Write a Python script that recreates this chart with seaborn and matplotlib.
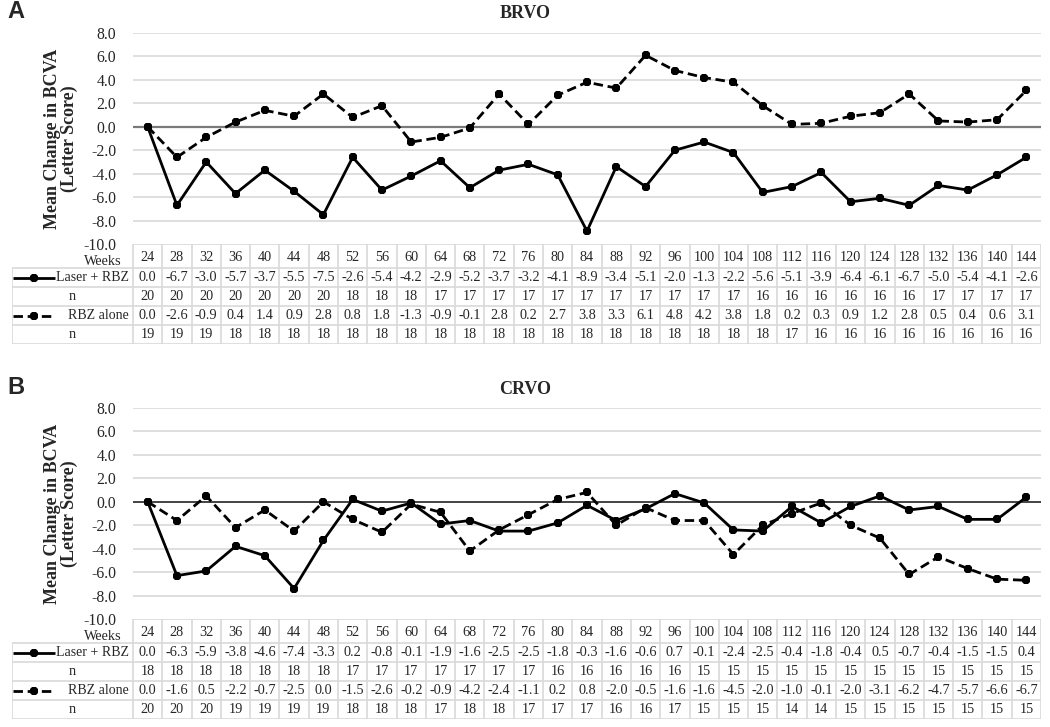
import numpy as np
import matplotlib
matplotlib.use("Agg")
import matplotlib.pyplot as plt
import seaborn as sns

# ---------------- data ----------------
weeks = [24, 28, 32, 36, 40, 44, 48, 52, 56, 60, 64, 68, 72, 76, 80, 84,
         88, 92, 96, 100, 104, 108, 112, 116, 120, 124, 128, 132, 136, 140, 144]

brvo_laser = [0.0, -6.7, -3.0, -5.7, -3.7, -5.5, -7.5, -2.6, -5.4, -4.2, -2.9, -5.2, -3.7, -3.2, -4.1, -8.9,
              -3.4, -5.1, -2.0, -1.3, -2.2, -5.6, -5.1, -3.9, -6.4, -6.1, -6.7, -5.0, -5.4, -4.1, -2.6]
brvo_laser_n = [20, 20, 20, 20, 20, 20, 20, 18, 18, 18, 17, 17, 17, 17, 17, 17,
                17, 17, 17, 17, 17, 16, 16, 16, 16, 16, 16, 17, 17, 17, 17]
brvo_rbz = [0.0, -2.6, -0.9, 0.4, 1.4, 0.9, 2.8, 0.8, 1.8, -1.3, -0.9, -0.1, 2.8, 0.2, 2.7, 3.8,
            3.3, 6.1, 4.8, 4.2, 3.8, 1.8, 0.2, 0.3, 0.9, 1.2, 2.8, 0.5, 0.4, 0.6, 3.1]
brvo_rbz_n = [19, 19, 19, 18, 18, 18, 18, 18, 18, 18, 18, 18, 18, 18, 18, 18,
              18, 18, 18, 18, 18, 18, 17, 16, 16, 16, 16, 16, 16, 16, 16]

crvo_laser = [0.0, -6.3, -5.9, -3.8, -4.6, -7.4, -3.3, 0.2, -0.8, -0.1, -1.9, -1.6, -2.5, -2.5, -1.8, -0.3,
              -1.6, -0.6, 0.7, -0.1, -2.4, -2.5, -0.4, -1.8, -0.4, 0.5, -0.7, -0.4, -1.5, -1.5, 0.4]
crvo_laser_n = [18, 18, 18, 18, 18, 18, 18, 17, 17, 17, 17, 17, 17, 17, 16, 16,
                16, 16, 16, 15, 15, 15, 15, 15, 15, 15, 15, 15, 15, 15, 15]
crvo_rbz = [0.0, -1.6, 0.5, -2.2, -0.7, -2.5, 0.0, -1.5, -2.6, -0.2, -0.9, -4.2, -2.4, -1.1, 0.2, 0.8,
            -2.0, -0.5, -1.6, -1.6, -4.5, -2.0, -1.0, -0.1, -2.0, -3.1, -6.2, -4.7, -5.7, -6.6, -6.7]
crvo_rbz_n = [20, 20, 20, 19, 19, 19, 19, 18, 18, 18, 17, 18, 18, 17, 17, 17,
              16, 16, 17, 15, 15, 15, 14, 14, 15, 15, 15, 15, 15, 15, 15]

yticks = [8.0, 6.0, 4.0, 2.0, 0.0, -2.0, -4.0, -6.0, -8.0, -10.0]
series_names = ["Laser + RBZ", "RBZ alone"]
panel_titles = ["BRVO", "CRVO"]
panel_letters = ["A", "B"]
ylabel = "Mean Change in BCVA\n(Letter Score)"

# ---------------- style ----------------
sns.set_theme(style="white")
plt.rcParams["font.family"] = ["Liberation Serif", "DejaVu Serif"]

W, H = 1050, 727
fig = plt.figure(figsize=(W / 100, H / 100), dpi=100)


def fr(x0, y0, x1, y1):
    """pixel box -> figure fraction rect"""
    return [x0 / W, 1 - y1 / H, (x1 - x0) / W, (y1 - y0) / H]


PX_L, PX_R = 133, 1041          # data column span in pixels
TBL_L = 12                       # table left edge
XMIN, XMAX = 22, 146
unit = (PX_R - PX_L) / (XMAX - XMIN)
TXMIN = XMIN - (PX_L - TBL_L) / unit

GRID = "#d9d9d9"
FS = 10.3
LW = 2.0
MS = 6.6
MK = "8"
DASH = (3.4, 1.7)

panels = [
    dict(plot=(33, 244), table=(244, 344), zc="#7a7a7a", zw=1.6,
         data=(brvo_laser, brvo_laser_n, brvo_rbz, brvo_rbz_n)),
    dict(plot=(408, 619), table=(619, 719), zc="#222222", zw=1.2,
         data=(crvo_laser, crvo_laser_n, crvo_rbz, crvo_rbz_n)),
]

for k, p in enumerate(panels):
    laser, laser_n, rbz, rbz_n = p["data"]
    top, bot = p["plot"]
    ax = fig.add_axes(fr(PX_L, top, PX_R, bot))
    for sp in ax.spines.values():
        sp.set_visible(False)
    ax.set_xlim(XMIN, XMAX)
    ax.set_ylim(-10, 8)
    ax.set_yticks(yticks)
    ax.set_yticklabels([f"{v:.1f}" for v in yticks], fontsize=FS + 1)
    ax.tick_params(axis="y", length=0, pad=12)
    ax.set_xticks([])
    for v in yticks:
        if v not in (0.0, -10.0):
            ax.axhline(v, color=GRID, lw=1.2, zorder=0)
    ax.axhline(0, color=p["zc"], lw=p["zw"], zorder=1)

    sns.lineplot(x=weeks, y=laser, ax=ax, color="black", lw=LW, marker=MK,
                 markersize=MS, markeredgewidth=0, zorder=3)
    sns.lineplot(x=weeks, y=rbz, ax=ax, color="black", lw=LW, marker=MK,
                 markersize=MS, markeredgewidth=0, zorder=3)
    ax.lines[-1].set_dashes(DASH)

    ax.set_ylabel(ylabel, fontsize=FS + 2.7, fontweight="bold", linespacing=1.0)
    ax.yaxis.set_label_coords(-(PX_L - 78) / (PX_R - PX_L), 0.5)

    # panel title & letter
    fig.text(525 / W, 1 - (top - 19) / H, panel_titles[k], ha="center", va="center",
             fontsize=13, fontweight="bold")
    fig.text(7 / W, 1 - (top - 21) / H, panel_letters[k], ha="left", va="center",
             fontsize=17, fontweight="bold", family=["Liberation Sans", "DejaVu Sans"])

    # ---------------- table ----------------
    ttop, tbot = p["table"]
    tax = fig.add_axes(fr(TBL_L, ttop, PX_R, tbot))
    tax.set_xlim(TXMIN, XMAX)
    tax.set_ylim(tbot - ttop, 0)
    tax.axis("off")
    rows = [0, 24, 43, 62, 81, 100]
    tax.hlines(rows[0], XMIN, XMAX, color=GRID, lw=1.2)
    for r in rows[1:]:
        tax.hlines(r, TXMIN, XMAX, color=GRID, lw=1.2)
    tax.vlines(TXMIN, rows[1], rows[-1], color=GRID, lw=1.2)
    for w in weeks:
        tax.vlines(w - 2, rows[0], rows[-1], color=GRID, lw=1.2)
    tax.vlines(XMAX, rows[0], rows[-1], color=GRID, lw=1.2)

    centers = [(rows[i] + rows[i + 1]) / 2 for i in range(5)]
    row_vals = [[str(w) for w in weeks],
                [f"{v:.1f}" for v in laser],
                [str(v) for v in laser_n],
                [f"{v:.1f}" for v in rbz],
                [str(v) for v in rbz_n]]
    for ri, vals in enumerate(row_vals):
        dy = 1.5 if ri == 0 else 0
        for w, s in zip(weeks, vals):
            tax.text(w, centers[ri] + dy, s, ha="center", va="center", fontsize=FS)

    lab_r = XMIN - 0.55
    tax.text(XMIN - 1.5, centers[0] + 5, "Weeks", ha="right", va="center", fontsize=FS)
    tax.text(lab_r, centers[1], series_names[0], ha="right", va="center", fontsize=FS - 0.3)
    tax.text(lab_r, centers[3], series_names[1], ha="right", va="center", fontsize=FS - 0.3)
    ncenter = (TXMIN + XMIN) / 2
    tax.text(ncenter, centers[2], "n", ha="center", va="center", fontsize=FS)
    tax.text(ncenter, centers[4], "n", ha="center", va="center", fontsize=FS)
    # legend keys
    lx0 = TXMIN + 1 / unit
    lx1 = TXMIN + 43 / unit
    lxm = TXMIN + 22 / unit
    tax.plot([lx0, lx1], [centers[1]] * 2, color="black", lw=LW, solid_capstyle="butt")
    tax.plot([lxm], [centers[1]], MK, color="black", ms=MS, mew=0)
    kl, = tax.plot([lx0, lx1], [centers[3]] * 2, color="black", lw=LW)
    kl.set_dashes(DASH)
    tax.plot([lxm], [centers[3]], MK, color="black", ms=MS, mew=0)

fig.savefig("out.png", dpi=100)
